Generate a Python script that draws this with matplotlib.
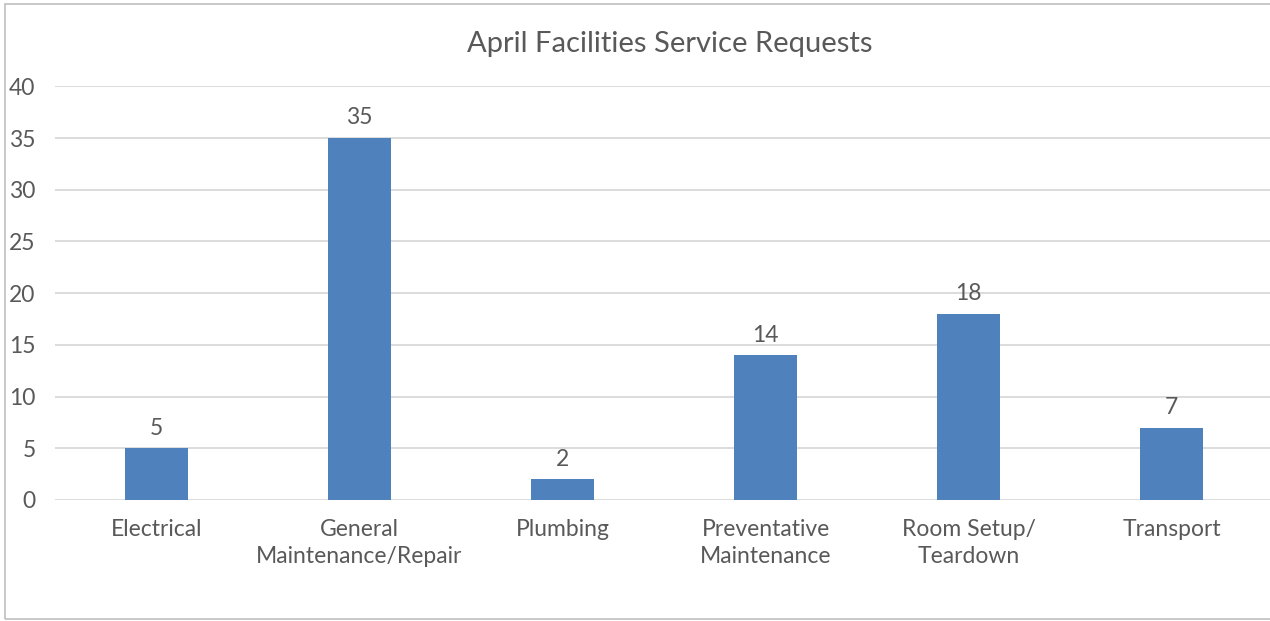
import matplotlib
matplotlib.use("Agg")
import matplotlib.pyplot as plt
from matplotlib.patches import Rectangle

categories = ["Electrical", "General\nMaintenance/Repair", "Plumbing",
              "Preventative\nMaintenance", "Room Setup/\nTeardown", "Transport"]
values = [5, 35, 2, 14, 18, 7]
yticks = [0, 5, 10, 15, 20, 25, 30, 35, 40]
title = "April Facilities Service Requests"

W, H = 1270, 621
DPI = 100
plt.rcParams['font.family'] = ['Lato', 'DejaVu Sans']
fig = plt.figure(figsize=(W / DPI, H / DPI), dpi=DPI)

text_color = "#595959"
grid_color = "#D9D9D9"
bar_color = "#4F81BD"

left, right = 55, 1273
top, bottom = 86.4, 500
ax = fig.add_axes([left / W, 1 - bottom / H, (right - left) / W, (bottom - top) / H])

x = list(range(len(categories)))
ax.bar(x, values, width=0.31, color=bar_color, zorder=3)
ax.set_xlim(-0.5, len(categories) - 0.5)
ax.set_ylim(0, 40)
ax.set_yticks(yticks)
ax.set_xticks(x)
ax.set_xticklabels(categories, fontsize=16.5, color=text_color, linespacing=1.3)
ax.tick_params(axis='y', labelsize=16.5, labelcolor=text_color, length=0, pad=14)
ax.tick_params(axis='x', length=0, pad=14)
ax.grid(axis='y', color=grid_color, linewidth=1.3, zorder=0)
for s in ax.spines.values():
    s.set_visible(False)

for xi, v in zip(x, values):
    ax.annotate(str(v), (xi, v), xytext=(0, 7), textcoords='offset points',
                ha='center', va='bottom', fontsize=16.5, color=text_color)

fig.text(670 / W, 1 - 44 / H, title, ha='center', va='center',
         fontsize=21, color=text_color)

fig.patches.append(Rectangle((4.5 / W, 1 - 619 / H), (W + 10) / W, (619 - 3.5) / H,
                             transform=fig.transFigure, fill=False,
                             edgecolor="#BFBFBF", linewidth=1.2))

fig.savefig("out.png", dpi=DPI, facecolor="white")
